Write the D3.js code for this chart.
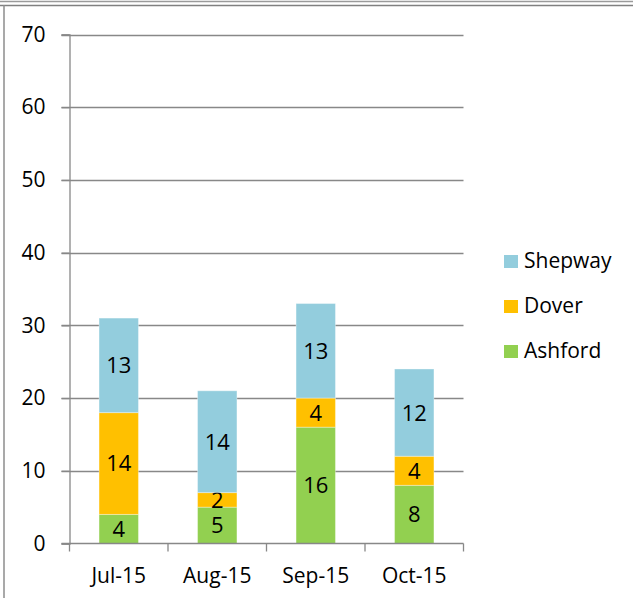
<!DOCTYPE html>
<html>
<head>
<meta charset="utf-8">
<script src="https://cdn.jsdelivr.net/npm/d3@7"></script>
<style>
  body { margin: 0; background: #fff; }
  svg text { font-family: "Open Sans", sans-serif; fill: #000; }
</style>
</head>
<body>
<svg id="chart" width="633" height="598"></svg>
<script>
// stacked bars per month, bottom to top: Ashford, Dover, Shepway
var months = ["Jul-15", "Aug-15", "Sep-15", "Oct-15"];
var seriesNames = ["Ashford", "Dover", "Shepway"];
var ashford = [4, 5, 16, 8];
var dover = [14, 2, 4, 4];
var shepway = [13, 14, 13, 12];
var yTicks = [0, 10, 20, 30, 40, 50, 60, 70];

var colors = {Ashford: "#92D050", Dover: "#FFC000", Shepway: "#93CDDD"};

(function(){
var svg = d3.select("#chart");
var W = 633, H = 598;
var pLeft = 69.5, pRight = 463.5, pTop = 34.5, pBottom = 543.5;
var fs = "21px";

// frame bits from the sheet
svg.append("line").attr("x1", 0).attr("x2", W).attr("y1", 1.5).attr("y2", 1.5)
	.attr("stroke", "#9a9a9a").attr("stroke-width", 1.5);
svg.append("line").attr("x1", 0).attr("x2", W).attr("y1", 5.5).attr("y2", 5.5)
	.attr("stroke", "#808080").attr("stroke-width", 1.5);
svg.append("line").attr("x1", 4).attr("x2", 4).attr("y1", 5).attr("y2", H)
	.attr("stroke", "#8c8c8c").attr("stroke-width", 1.5);

var x = d3.scaleBand().domain(months).range([pLeft, pRight]).paddingInner(0.6).paddingOuter(0.3);
var y = d3.scaleLinear().domain([0, 70]).range([pBottom, pTop]);

// gridlines
svg.append("g").selectAll("line").data(yTicks.slice(1)).enter().append("line")
	.attr("x1", pLeft - 8).attr("x2", pRight)
	.attr("y1", function(d){ return Math.round(y(d)) + 0.5; })
	.attr("y2", function(d){ return Math.round(y(d)) + 0.5; })
	.attr("stroke", "#888").attr("stroke-width", 1.3);

var data = months.map(function(m, i){
	return {month: m, Ashford: ashford[i], Dover: dover[i], Shepway: shepway[i]};
});
var stack = d3.stack().keys(seriesNames)(data);

var layers = svg.append("g").selectAll("g").data(stack).enter().append("g")
	.attr("fill", function(d){ return colors[d.key]; });
layers.selectAll("rect").data(function(d){ return d; }).enter().append("rect")
	.attr("x", function(d){ return x(d.data.month); })
	.attr("width", x.bandwidth())
	.attr("y", function(d){ return y(d[1]); })
	.attr("height", function(d){ return y(d[0]) - y(d[1]); })
	.attr("stroke", "#fff").attr("stroke-opacity", 0.35).attr("stroke-width", 1);

layers.selectAll("text").data(function(d){ return d; }).enter().append("text")
	.attr("x", function(d){ return x(d.data.month) + x.bandwidth() / 2; })
	.attr("y", function(d){ return (y(d[0]) + y(d[1])) / 2; })
	.attr("text-anchor", "middle").attr("dy", "0.36em")
	.style("font-size", "22px")
	.text(function(d){ return d[1] - d[0]; });

// y axis
var yAxis = svg.append("g").attr("transform", "translate(" + pLeft + ",0)")
	.call(d3.axisLeft(y).tickValues(yTicks).tickSize(8).tickPadding(16));
yAxis.select(".domain").attr("stroke", "#888").attr("stroke-width", 1.3);
yAxis.selectAll(".tick line").attr("stroke", "#888").attr("stroke-width", 1.3);
yAxis.selectAll("text").style("font-size", fs).style("font-family", "Open Sans").attr("fill", "#000");

// x axis with ticks between categories
var xAxis = svg.append("g").attr("transform", "translate(0," + pBottom + ")");
xAxis.append("line").attr("x1", pLeft - 8).attr("x2", pRight).attr("y1", 0).attr("y2", 0)
	.attr("stroke", "#888").attr("stroke-width", 1.3);
var step = (pRight - pLeft) / months.length;
xAxis.selectAll(".sep").data(d3.range(months.length + 1)).enter().append("line")
	.attr("x1", function(i){ return pLeft + i * step; })
	.attr("x2", function(i){ return pLeft + i * step; })
	.attr("y1", 0).attr("y2", 8)
	.attr("stroke", "#888").attr("stroke-width", 1.3);
xAxis.selectAll("text").data(months).enter().append("text")
	.attr("x", function(m){ return x(m) + x.bandwidth() / 2; })
	.attr("y", 39)
	.attr("text-anchor", "middle")
	.style("font-size", fs)
	.text(function(m){ return m; });

// legend
var legend = svg.append("g").selectAll("g").data(seriesNames.slice().reverse()).enter().append("g")
	.attr("transform", function(d, i){ return "translate(504," + (268 + i * 45) + ")"; });
legend.append("rect").attr("x", 0).attr("y", -13).attr("width", 14).attr("height", 13)
	.attr("fill", function(d){ return colors[d]; });
legend.append("text").attr("x", 20).attr("y", 0)
	.style("font-size", fs)
	.text(function(d){ return d; });
})();
</script>
</body>
</html>
